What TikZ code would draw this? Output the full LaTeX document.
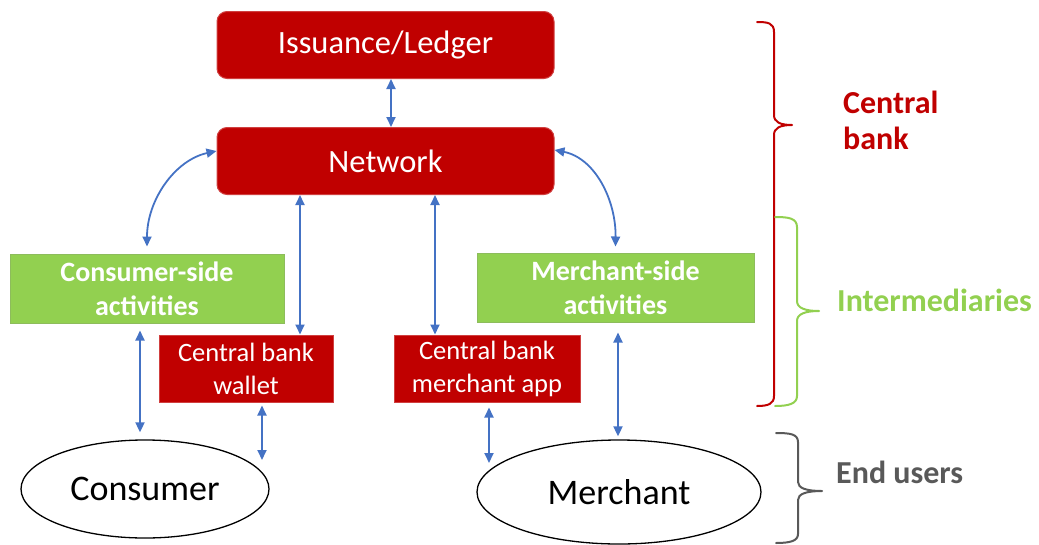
\documentclass[tikz,border=0pt]{standalone}
\usepackage{fontspec}
\setmainfont{Carlito}
\usetikzlibrary{arrows.meta,shapes.geometric,calc}
\definecolor{cbred}{HTML}{C00000}
\definecolor{igreen}{HTML}{92D050}
\definecolor{arrblue}{HTML}{4472C4}
\definecolor{ugray}{HTML}{595959}
\begin{document}
\begin{tikzpicture}[x=1pt,y=-1pt,
  redbox/.style={fill=cbred, draw=cbred!75!white, line width=1pt, text=white, inner sep=0pt, align=center},
  bigbox/.style={redbox, rounded corners=10pt, minimum width=337pt, minimum height=67pt, font=\fontsize{32.5}{38}\selectfont},
  smallbox/.style={redbox, minimum height=67pt, font=\fontsize{26.5}{33}\selectfont},
  greenbox/.style={fill=igreen, draw=igreen!75!gray, line width=1pt, text=white, inner sep=0pt, align=center, minimum height=69pt, font=\bfseries\fontsize{28}{34}\selectfont},
  user/.style={ellipse, draw=black, line width=1.3pt, fill=white, inner sep=0pt, font=\fontsize{36}{40}\selectfont},
  arr/.style={arrblue, line width=1.8pt, {Triangle[length=10pt,width=9pt]}-{Triangle[length=10pt,width=9pt]}},
  brace/.style={line width=2pt, line cap=round, line join=round},
  grouplabel/.style={font=\bfseries\fontsize{32}{36}\selectfont, anchor=west, align=left, inner sep=0pt}
]
\useasboundingbox (0,0) rectangle (1039,544);

% nodes
\node[bigbox] (led) at (385.5,45) {Issuance/Ledger};
\node[bigbox] (net) at (385.5,161) {Network};
\node[greenbox, minimum width=274pt] (cons) at (147,288.5) {Consumer-side\\activities};
\node[greenbox, minimum width=277pt] (merc) at (615.5,287.5) {Merchant-side\\activities};
\node[smallbox, minimum width=174pt] (wal) at (246,368.5) {Central bank\\wallet};
\node[smallbox, minimum width=186pt] (app) at (487,368.5) {Central bank\\merchant app};
\node[user, minimum width=248pt, minimum height=98pt] (cu) at (145,489) {Consumer};
\node[user, minimum width=284pt, minimum height=104pt] (mu) at (619,492) {Merchant};

% connectors
\draw[arr] ([xshift=5.5pt]led.south) -- ([xshift=5.5pt]net.north);
\draw[arr] (net.south -| 300,0) -- (wal.north -| 300,0);
\draw[arr] (net.south -| 435,0) -- (app.north -| 435,0);
\coordinate (nl) at ([yshift=10pt]net.west);
\coordinate (cl) at ([yshift=7pt]cons.north);
\draw[arr] (nl) .. controls (175,160) and (147,200) .. (cl);
\coordinate (nr) at ([yshift=11pt]net.east);
\coordinate (mr) at ([yshift=6pt]merc.north);
\draw[arr] (nr) .. controls (595,158) and (616,200) .. (mr);
\coordinate (cs1) at ([xshift=-7pt,yshift=-7pt]cons.south);
\coordinate (cs2) at ([xshift=-5pt,yshift=7pt]cu.north);
\draw[arr] (cs1) -- (cs1 |- cs2);
\coordinate (w1) at ([xshift=16pt,yshift=-3pt]wal.south);
\coordinate (w2) at (262,460);
\draw[arr] (w1) -- (w2);
\coordinate (a1) at ([xshift=2pt,yshift=-5pt]app.south);
\coordinate (a2) at (489,463);
\draw[arr] (a1) -- (a2);
\coordinate (m1) at ([xshift=2.5pt,yshift=-10pt]merc.south);
\coordinate (m2) at ([yshift=3pt]mu.north);
\draw[arr] (m1) -- (m1 |- m2);

% braces
\draw[brace, cbred] (757,22) .. controls (768,22) and (774,23) .. (774,32) -- (774,115)
  .. controls (774,122) and (780,125) .. (792,125) .. controls (780,125) and (774,128) .. (774,135)
  -- (774,396) .. controls (774,404) and (768,406) .. (757,406);
\draw[brace, igreen] (775,217) .. controls (788,217) and (797,218) .. (797,227) -- (797,301)
  .. controls (797,308) and (805,311) .. (819,311) .. controls (805,311) and (797,314) .. (797,321)
  -- (797,396) .. controls (797,404) and (788,406) .. (775,406);
\draw[brace, ugray] (776,433) .. controls (790,433) and (798,434) .. (798,442) -- (798,482)
  .. controls (798,488) and (806,491) .. (822,491) .. controls (806,491) and (798,494) .. (798,500)
  -- (798,534) .. controls (798,541) and (790,543) .. (776,543);

% group labels
\node[grouplabel, text=cbred] (lcb) at (843,120) {Central\\bank};
\node[grouplabel, text=igreen] (lint) at (837,300) {Intermediaries};
\node[grouplabel, text=ugray] (leu) at (836,472) {End users};
\end{tikzpicture}
\end{document}
